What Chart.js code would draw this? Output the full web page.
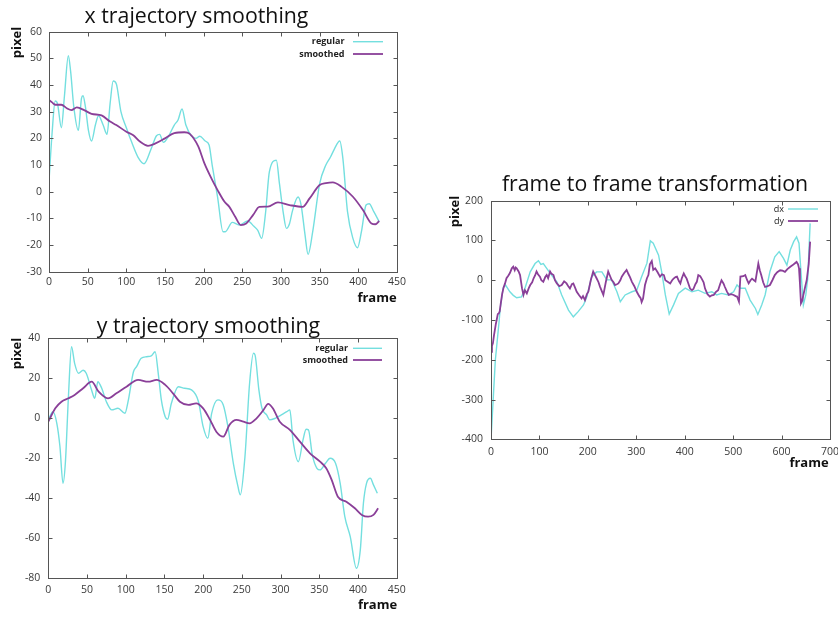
<!DOCTYPE html>
<html>
<head>
<meta charset="utf-8">
<script src="https://cdn.jsdelivr.net/npm/chart.js@4.4.1/dist/chart.umd.min.js"></script>
<style>
  html, body { margin: 0; padding: 0; background: #ffffff; }
  #sheet { position: relative; width: 838px; height: 617px; overflow: hidden; background: #ffffff; }
  #sheet canvas { position: absolute; left: 0; top: 0; }
</style>
</head>
<body>
<div id="sheet">
  <canvas id="xTraj" width="838" height="617"></canvas>
  <canvas id="yTraj" width="838" height="617"></canvas>
  <canvas id="f2f" width="838" height="617"></canvas>
</div>
<script>
// ---- x trajectory (pixel vs frame) ----
const xRegularFrames = [0, 4, 8, 11, 16, 20, 25, 28, 32, 38, 42, 44, 47, 51, 55, 60, 64, 70, 75, 79, 83, 87, 93, 100, 107, 115, 123, 132, 139, 143, 148, 154, 162, 167, 172, 177, 184, 190, 195, 202, 207, 211, 218, 225, 228, 237, 246, 257, 265, 270, 275, 280, 285, 294, 298, 303, 307, 311, 315, 322, 326, 331, 335, 341, 350, 358, 364, 369, 376, 380, 386, 393, 399, 404, 410, 414, 420, 427];
const xRegularPixels = [4, 22, 34, 33, 24, 36, 51, 45, 32, 23, 35, 36, 32, 23, 19, 25, 28.5, 25, 21.5, 33, 41.5, 40.5, 30, 24, 18.5, 13, 10.5, 16, 21, 21.5, 18.5, 20.5, 25, 27, 31, 25, 21, 20, 20.8, 19, 17.5, 10, -2, -15, -15, -11.5, -12.5, -11, -13, -14.5, -17.5, -8, 7.5, 11.8, 3, -8, -13.75, -12, -7, -2, -5, -16, -23.5, -15, 3, 10, 13, 16, 19, 12.5, -7.5, -17.5, -21, -15, -5, -4.5, -7.5, -11.25];
const xSmoothedFrames = [0, 4, 8, 16, 23, 29, 36, 46, 55, 68, 79, 87, 100, 109, 118, 128, 137, 150, 162, 175, 182, 193, 201, 210, 218, 227, 233, 241, 248, 255, 264, 272, 283, 296, 311, 328, 337, 350, 358, 367, 378, 393, 406, 417, 422, 427];
const xSmoothedPixels = [34.4, 33.5, 32.6, 32.6, 31.3, 30.6, 31.6, 30.5, 29.2, 28.6, 26.3, 25, 22.5, 21.2, 18.7, 17.2, 18, 20, 22, 22.3, 21.7, 17, 10.6, 5, 0.6, -3.8, -5.6, -9.5, -12.5, -11.9, -8.7, -5.7, -5.6, -4, -5, -5.7, -2.5, 2.5, 3.2, 3.5, 1.9, -1.9, -6.9, -11.9, -12.2, -11];

// ---- y trajectory (pixel vs frame) ----
const yRegularFrames = [0, 6, 11, 15, 19, 22, 26, 30, 34, 39, 45, 49, 56, 60, 64, 69, 75, 82, 90, 99, 103, 110, 114, 120, 127, 133, 138, 142, 146, 151, 154, 159, 168, 176, 185, 194, 200, 206, 211, 219, 226, 232, 239, 245, 248, 254, 260, 265, 267, 272, 276, 282, 286, 293, 301, 308, 312, 316, 323, 329, 333, 336, 341, 347, 351, 358, 364, 371, 377, 383, 390, 398, 403, 407, 411, 416, 420, 425];
const yRegularPixels = [-0.8, 3.3, -2.5, -14, -32.5, -22.5, 10.8, 35.8, 27.5, 22.5, 24, 22.5, 14, 10, 18.3, 15, 8.3, 4.2, 5, 2.5, 8.3, 23.3, 25.8, 30, 30.8, 31.2, 33.3, 22.5, 9.2, 0.8, -0.5, 7.5, 15.8, 15, 14.2, 8.3, -4.2, -10, 2.5, 9.2, 6.7, -4.2, -22.5, -34.2, -38.3, -19.2, 17.5, 32.5, 31.7, 14.2, 5, 1.7, -0.8, 0, 1.7, 3.3, 4.2, -10.8, -21.7, -10.8, -5.5, -5.8, -18.3, -25, -25.8, -22.5, -20, -22.5, -32.5, -49.2, -59.2, -75, -65.8, -42.5, -32.5, -30, -33.3, -37.5];
const ySmoothedFrames = [0, 9, 17, 26, 34, 45, 56, 65, 77, 88, 101, 116, 129, 140, 151, 161, 170, 181, 191, 200, 209, 217, 226, 234, 243, 252, 260, 269, 278, 284, 290, 299, 312, 325, 338, 351, 359, 366, 374, 385, 396, 405, 413, 420, 426];
const ySmoothedPixels = [-1.7, 5, 8.3, 10, 11.7, 15, 18.3, 13.3, 10, 12.5, 15.8, 19.2, 18.3, 19.2, 16.7, 12.5, 8.3, 6.7, 7.5, 5, -0.8, -6.7, -9.2, -3.3, -0.8, -1.7, -2.5, 0, 4.2, 7.2, 5, -1.7, -5.8, -11.7, -17.5, -21.7, -25, -30.8, -39.2, -41.7, -45, -48.3, -49.2, -48.3, -45];

// ---- frame to frame transformation (dx, dy) ----
const dxFrames = [0, 5, 9, 12, 17, 19, 25, 30, 39, 46, 53, 63, 70, 81, 91, 98, 103, 108, 115, 125, 136, 146, 160, 170, 180, 191, 198, 208, 218, 229, 239, 249, 260, 267, 277, 291, 301, 311, 322, 329, 335, 346, 353, 360, 368, 377, 387, 401, 415, 428, 442, 456, 466, 476, 490, 501, 508, 515, 525, 535, 546, 551, 559, 566, 576, 586, 595, 604, 611, 618, 625, 631, 636, 641, 645, 650, 654, 659];
const dxPixels = [-401, -289, -200, -163, -100, -71, -20, -12, -29, -38, -44, -42, -21, 21, 42, 49, 40, 42, 30, 13, -4, -37, -75, -92, -79, -62, -41, 9, 21, 21, 1, 1, -29, -54, -37, -29, -25, 9, 43, 99, 93, 63, 17, -37, -85, -62, -33, -20, -29, -25, -33, -29, -37, -33, -37, -29, -12, -20, -20, -50, -71, -86, -62, -37, 22, 59, 72, 55, 38, 76, 97, 109, 93, 5, -62, -37, 4, 143];
const dyFrames = [0, 2, 4, 6, 8, 10, 12, 14, 16, 18, 20, 23, 26, 29, 32, 36, 39, 43, 46, 49, 51, 53, 57, 60, 64, 67, 70, 74, 78, 81, 85, 88, 91, 94, 97, 101, 104, 108, 112, 115, 118, 122, 125, 129, 132, 136, 141, 146, 151, 156, 160, 163, 167, 170, 174, 177, 182, 187, 190, 194, 198, 201, 206, 211, 215, 218, 222, 225, 229, 232, 237, 242, 246, 249, 253, 256, 260, 263, 267, 270, 275, 280, 284, 287, 291, 296, 301, 306, 309, 311, 314, 318, 322, 325, 328, 332, 335, 339, 344, 349, 353, 357, 360, 364, 370, 374, 377, 381, 384, 388, 391, 394, 398, 401, 404, 408, 411, 415, 418, 422, 425, 428, 432, 435, 439, 442, 447, 452, 456, 460, 464, 469, 473, 476, 480, 483, 487, 491, 496, 501, 505, 508, 512, 515, 521, 525, 529, 532, 536, 539, 543, 546, 549, 552, 555, 558, 562, 566, 571, 576, 581, 586, 591, 597, 602, 607, 612, 618, 623, 627, 631, 634, 636, 638, 640, 643, 645, 649, 652, 656, 659];
const dyPixels = [-180, -165, -158, -140, -125, -110, -98, -85, -84, -78, -60, -35, -18, -8, 5, 12, 18, 30, 34, 25, 32, 30, 22, 13, -20, -37, -25, -33, -20, -12, -5, 5, 12, 22, 15, 9, 0, -4, 8, 13, 5, 22, 16, 13, 0, -8, -15, -12, -3, -8, -16, -21, -10, -8, -20, -29, -38, -46, -40, -50, -35, -29, 0, 22, 12, 5, -5, -16, -28, -37, -5, 22, 10, 1, -5, -12, -10, -8, 0, 9, 18, 26, 15, 8, -4, -15, -29, -40, -45, -55, -46, -12, 5, 13, 40, 48, 26, 30, 20, 9, 15, 13, 0, -3, -8, 0, 4, 8, 9, -2, -8, 5, 17, 10, 4, -10, -21, -25, -22, -10, -4, 13, 10, 4, -5, -21, -35, -41, -38, -37, -30, -25, -10, 0, -8, -17, -28, -37, -35, -37, -40, -41, -54, 9, 10, 13, 0, -8, 0, 4, 0, -3, 20, 42, 25, 13, -5, -17, -15, -12, 0, 13, 20, 25, 24, 21, 28, 34, 38, 42, 46, 40, 30, -10, -58, -50, -37, -15, 1, 40, 97];

const CYAN = '#74dfdf';
const PURPLE = '#8a3f98';

function points(frames, values) {
  return frames.map((f, i) => ({ x: f, y: values[i] }));
}

// gnuplot-style decoration: closed border, inward mirrored tics, key, title and axis labels
const gnuplotDecor = {
  id: 'gnuplotDecor',
  afterDraw(chart, args, opts) {
    const { ctx, chartArea: a, scales } = chart;
    const L = Math.round(a.left) + 0.5, R = Math.round(a.right) + 0.5;
    const T = Math.round(a.top) + 0.5, B = Math.round(a.bottom) + 0.5;
    ctx.save();
    ctx.strokeStyle = '#555555';
    ctx.lineWidth = 1;
    ctx.strokeRect(L, T, R - L, B - T);
    const tl = 4;
    ctx.beginPath();
    scales.x.ticks.forEach(t => {
      const px = Math.round(scales.x.getPixelForValue(t.value)) + 0.5;
      ctx.moveTo(px, B); ctx.lineTo(px, B - tl);
      ctx.moveTo(px, T); ctx.lineTo(px, T + tl);
    });
    scales.y.ticks.forEach(t => {
      const py = Math.round(scales.y.getPixelForValue(t.value)) + 0.5;
      ctx.moveTo(L, py); ctx.lineTo(L + tl, py);
      ctx.moveTo(R, py); ctx.lineTo(R - tl, py);
    });
    ctx.stroke();

    // key
    const key = opts.key;
    ctx.font = key.font;
    ctx.textAlign = 'right';
    ctx.textBaseline = 'middle';
    key.rows.forEach((rowY, i) => {
      const ds = chart.data.datasets[i];
      ctx.fillStyle = '#222222';
      ctx.fillText(ds.label, key.textRight, rowY);
      ctx.strokeStyle = ds.borderColor;
      ctx.lineWidth = ds.borderWidth;
      ctx.beginPath();
      ctx.moveTo(key.lineFrom, rowY);
      ctx.lineTo(key.lineTo, rowY);
      ctx.stroke();
    });

    // title
    ctx.fillStyle = '#111111';
    ctx.textAlign = 'center';
    ctx.textBaseline = 'alphabetic';
    ctx.font = '21.3px "Open Sans", sans-serif';
    ctx.fillText(opts.title.text, opts.title.x, opts.title.y);

    // axis labels
    ctx.font = 'bold 13px "Open Sans", sans-serif';
    ctx.textBaseline = 'middle';
    ctx.fillText(opts.xLabel.text, opts.xLabel.x, opts.xLabel.y);
    ctx.save();
    ctx.translate(opts.yLabel.x, opts.yLabel.y);
    ctx.rotate(-Math.PI / 2);
    ctx.fillText(opts.yLabel.text, 0, 0);
    ctx.restore();
    ctx.restore();
  }
};

function fixedBox(size) {
  return function (scale) {
    if (scale.isHorizontal()) scale.height = size; else scale.width = size;
    scale.paddingLeft = 0; scale.paddingRight = 0;
    scale.paddingTop = 0; scale.paddingBottom = 0;
  };
}

const tickFont = { family: '"Open Sans", sans-serif', size: 10.5 };

function makeChart(id, cfg) {
  return new Chart(document.getElementById(id), {
    type: 'line',
    data: { datasets: cfg.datasets },
    options: {
      responsive: false,
      animation: false,
      events: [],
      layout: { padding: cfg.padding },
      elements: { point: { radius: 0 } },
      scales: {
        x: {
          type: 'linear', min: cfg.xMin, max: cfg.xMax,
          afterFit: fixedBox(cfg.xBox),
          grid: { display: false, drawTicks: false },
          border: { display: false },
          ticks: { stepSize: cfg.xStep, autoSkip: false, maxRotation: 0, padding: cfg.xPad, color: '#3a3a3a', font: tickFont }
        },
        y: {
          type: 'linear', min: cfg.yMin, max: cfg.yMax,
          afterFit: fixedBox(cfg.yBox),
          grid: { display: false, drawTicks: false },
          border: { display: false },
          ticks: { stepSize: cfg.yStep, autoSkip: false, padding: cfg.yPad, color: '#3a3a3a', font: tickFont }
        }
      },
      plugins: {
        legend: { display: false },
        tooltip: { enabled: false },
        gnuplotDecor: cfg.decor
      }
    },
    plugins: [gnuplotDecor]
  });
}

makeChart('xTraj', {
  datasets: [
    { label: 'regular', data: points(xRegularFrames, xRegularPixels), borderColor: CYAN, borderWidth: 1.4, cubicInterpolationMode: 'monotone', order: 2 },
    { label: 'smoothed', data: points(xSmoothedFrames, xSmoothedPixels), borderColor: PURPLE, borderWidth: 1.8, cubicInterpolationMode: 'monotone', order: 1 }
  ],
  padding: { left: 0, top: 31.7, right: 441, bottom: 0 },
  xMin: 0, xMax: 450, xStep: 50, xBox: 345.3, xPad: 4,
  yMin: -30, yMax: 60, yStep: 10, yBox: 49, yPad: 7,
  decor: {
    key: { font: 'bold 9px "Open Sans", sans-serif', textRight: 344.5, lineFrom: 353, lineTo: 383, rows: [41.7, 54] },
    title: { text: 'x trajectory smoothing', x: 196.5, y: 22.7 },
    xLabel: { text: 'frame', x: 377, y: 298.5 },
    yLabel: { text: 'pixel', x: 17.5, y: 42.5 }
  }
});

makeChart('yTraj', {
  datasets: [
    { label: 'regular', data: points(yRegularFrames, yRegularPixels), borderColor: CYAN, borderWidth: 1.4, cubicInterpolationMode: 'monotone', order: 2 },
    { label: 'smoothed', data: points(ySmoothedFrames, ySmoothedPixels), borderColor: PURPLE, borderWidth: 1.8, cubicInterpolationMode: 'monotone', order: 1 }
  ],
  padding: { left: 0, top: 338.3, right: 441.3, bottom: 0 },
  xMin: 0, xMax: 450, xStep: 50, xBox: 38.7, xPad: 5,
  yMin: -80, yMax: 40, yStep: 20, yBox: 48.3, yPad: 8,
  decor: {
    key: { font: 'bold 9px "Open Sans", sans-serif', textRight: 348, lineFrom: 353, lineTo: 382, rows: [348.3, 360] },
    title: { text: 'y trajectory smoothing', x: 208.5, y: 333.3 },
    xLabel: { text: 'frame', x: 377.5, y: 605 },
    yLabel: { text: 'pixel', x: 17.5, y: 353.5 }
  }
});

makeChart('f2f', {
  datasets: [
    { label: 'dx', data: points(dxFrames, dxPixels), borderColor: CYAN, borderWidth: 1.4, tension: 0, order: 2 },
    { label: 'dy', data: points(dyFrames, dyPixels), borderColor: PURPLE, borderWidth: 1.8, tension: 0, order: 1 }
  ],
  padding: { left: 445, top: 200.7, right: 8, bottom: 0 },
  xMin: 0, xMax: 700, xStep: 100, xBox: 177.7, xPad: 6,
  yMin: -400, yMax: 200, yStep: 100, yBox: 46, yPad: 8,
  decor: {
    key: { font: '9px "Open Sans", sans-serif', textRight: 784, lineFrom: 788, lineTo: 818, rows: [209, 221] },
    title: { text: 'frame to frame transformation', x: 655, y: 190.7 },
    xLabel: { text: 'frame', x: 809, y: 463 },
    yLabel: { text: 'pixel', x: 455.5, y: 211.5 }
  }
});
</script>
</body>
</html>
